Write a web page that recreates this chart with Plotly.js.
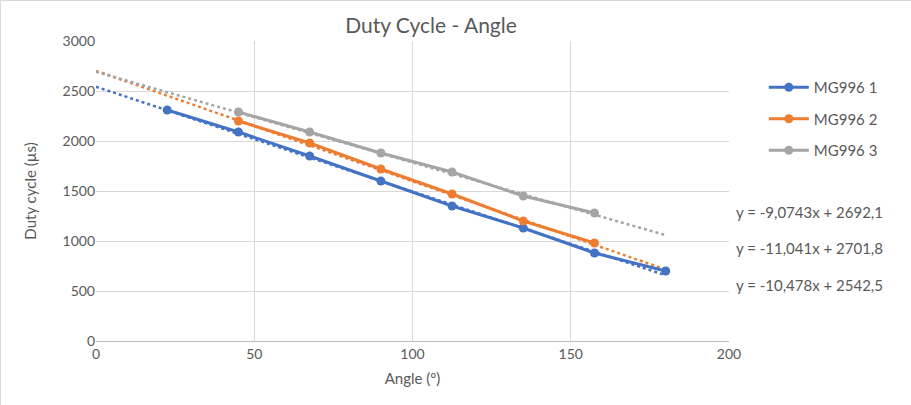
<!DOCTYPE html>
<html><head><meta charset="utf-8">
<script src="https://cdn.plot.ly/plotly-3.0.1.min.js"></script>
<style>html,body{margin:0;padding:0;background:#fff}#c{width:909px;height:403px;border:1px solid #d9d9d9}</style>
</head><body><div id="c"></div>
<script>
const seriesNames = ["MG996 1", "MG996 2", "MG996 3"];
const colors = ["#4472C4", "#ED7D31", "#A5A5A5"];
const angle1 = [22.5, 45, 67.5, 90, 112.5, 135, 157.5, 180];
const duty1 = [2310, 2090, 1850, 1600, 1350, 1130, 880, 700];
const angle2 = [45, 67.5, 90, 112.5, 135, 157.5];
const duty2 = [2200, 1980, 1720, 1470, 1200, 980];
const angle3 = [45, 67.5, 90, 112.5, 135, 157.5];
const duty3 = [2290, 2090, 1880, 1690, 1450, 1280];
// trendline coefficients as shown on the chart
const trendSlopes = [-10.478, -11.041, -9.0743];
const trendIntercepts = [2542.5, 2701.8, 2692.1];
const trendRange = [0, 180];
const equationLabels = ["y = -9,0743x + 2692,1", "y = -11,041x + 2701,8", "y = -10,478x + 2542,5"];

const xs = [angle1, angle2, angle3], ys = [duty1, duty2, duty3];
const font = "Lato, 'Open Sans', sans-serif";
const txt = "#595959";
const traces = [];
for (let i = 0; i < 3; i++) {
  traces.push({
    x: trendRange, y: trendRange.map(v => trendSlopes[i] * v + trendIntercepts[i]),
    mode: "lines", line: {color: colors[i], width: 2.5, dash: "dot"},
    showlegend: false, hoverinfo: "skip"
  });
}
for (let i = 0; i < 3; i++) {
  traces.push({
    x: xs[i], y: ys[i], name: seriesNames[i], mode: "lines+markers",
    line: {color: colors[i], width: 3}, marker: {color: colors[i], size: 9},
    legendgroup: "g" + i
  });
}
const layout = {
  width: 911, height: 405,
  margin: {l: 95, r: 183, t: 40, b: 65},
  paper_bgcolor: "#fff", plot_bgcolor: "#fff",
  font: {family: font, color: txt, size: 14},
  title: {text: "Duty Cycle - Angle", font: {size: 21, color: txt, family: font},
          x: 0.472, xref: "container", xanchor: "center", y: 0.938, yref: "container", yanchor: "middle"},
  xaxis: {range: [0, 200], dtick: 50, showgrid: true, gridcolor: "#d9d9d9", gridwidth: 1,
          zeroline: false, showline: true, linecolor: "#bfbfbf", ticks: "", tickfont: {size: 14, color: txt},
          title: {text: "Angle (º)", font: {size: 15, color: txt}, standoff: 12}},
  yaxis: {range: [0, 3000], dtick: 500, showgrid: true, gridcolor: "#d9d9d9", gridwidth: 1,
          zeroline: false, showline: false, ticks: "", tickfont: {size: 14, color: txt},
          title: {text: "Duty cycle (µs)", font: {size: 15, color: txt}, standoff: 22}},
  legend: {x: 1.055, y: 0.9, xanchor: "left", yanchor: "top", font: {size: 15, color: txt},
           tracegroupgap: 9, itemwidth: 40, bgcolor: "rgba(0,0,0,0)"},
  annotations: [0.431, 0.311, 0.187].map((yy, k) => ({
    xref: "paper", yref: "paper", x: 1.008, y: yy, xanchor: "left", yanchor: "middle",
    text: equationLabels[k], showarrow: false, font: {size: 15, color: txt}
  })),
  showlegend: true
};
Plotly.newPlot("c", traces, layout, {displayModeBar: false, staticPlot: true});
</script></body></html>
